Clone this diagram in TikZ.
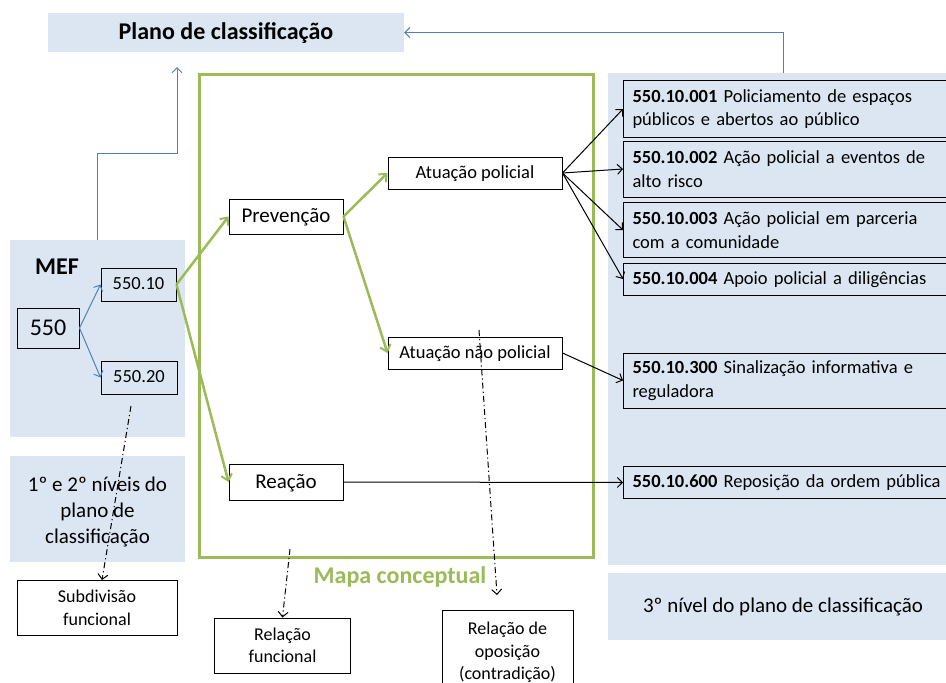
\documentclass[tikz,border=0pt]{standalone}
\usepackage{fontspec}
\setmainfont{Carlito}
\usetikzlibrary{arrows.meta,calc}
\definecolor{lb}{HTML}{DCE6F2}
\definecolor{gr}{HTML}{9BBB59}
\definecolor{bl}{HTML}{4F81BD}
\tikzset{
  panel/.style={fill=lb, draw=none, inner sep=0pt},
  bx/.style={draw=black, line width=1pt, inner sep=2pt, align=center},
  oneA/.style={text height=13pt, text depth=2.5pt},
  oneB/.style={text height=15pt, text depth=3pt},
  oneC/.style={text height=17pt, text depth=3pt},
  rbox/.style={draw=black, line width=1pt, fill=lb, anchor=west, minimum width=340pt,
    text width=322pt, inner xsep=9pt, inner ysep=0pt, align=left,
    font=\fontsize{18.5}{23.5}\selectfont},
  barb/.style={-{Straight Barb[length=5pt,width=10pt]}},
  bluearrow/.style={barb, draw=bl, line width=1pt},
  greenarrow/.style={-{Straight Barb[length=6pt,width=11pt,line width=2pt]}, draw=gr, line width=2.5pt},
  blackarrow/.style={barb, draw=black, line width=1pt},
  dasharrow/.style={barb, draw=black, line width=1pt, dash pattern=on 6pt off 3pt on 1.2pt off 3pt},
  body/.style={font=\fontsize{18.5}{23}\selectfont},
  mid/.style={font=\fontsize{21}{26}\selectfont},
  small/.style={font=\fontsize{18}{22.5}\selectfont},
}
\begin{document}
\begin{tikzpicture}[x=1pt,y=-1pt]
\useasboundingbox (0,0) rectangle (946,683);
\clip (0,0) rectangle (946,683);
\fill[white] (0,0) rectangle (946,683);

% panels
\node[panel, minimum width=356pt, minimum height=39pt, oneC] (title) at (226,32.5)
  {\bfseries\fontsize{24}{28}\selectfont Plano de classificação};
\node[panel, minimum width=175pt, minimum height=197pt] (mefpanel) at (97.5,338.5) {};
\node[panel, minimum width=175pt, minimum height=106pt] (lvl) at (97.5,509) {};
\node[mid, align=center, inner sep=0pt] (lvltxt) at (97.5,512)
  {1º e 2º níveis do\\plano de\\classificação};
\node[panel, minimum width=350pt, minimum height=492pt] (rpanel) at (783,319) {};
\node[panel, minimum width=350pt, minimum height=67pt, mid, oneB] (lvl3) at (783,606.5)
  {3º nível do plano de classificação};

% MEF
\node[font=\bfseries\fontsize{24}{28}\selectfont, oneC] (mef) at (57,267) {MEF};
\node[bx, oneC, minimum width=62pt, minimum height=40pt, font=\fontsize{24}{28}\selectfont] (n550) at (48,328) {550};
\node[bx, oneA, minimum width=75pt, minimum height=33pt, body] (n5510) at (138.5,284.5) {550.10};
\node[bx, oneA, minimum width=76pt, minimum height=33pt, body] (n5520) at (139,377.5) {550.20};

% conceptual map
\node[draw=gr, line width=3pt, minimum width=394pt, minimum height=483pt, inner sep=0pt] (mapa) at (396,315.5) {};
\node[text=gr, oneC, font=\bfseries\fontsize{24}{28}\selectfont] (mapalbl) at (400,576) {Mapa conceptual};
\node[bx, oneB, minimum width=114pt, minimum height=35pt, font=\fontsize{21}{26}\selectfont] (prev) at (286,216.5) {Prevenção};
\node[bx, oneB, minimum width=114pt, minimum height=36pt, font=\fontsize{21}{26}\selectfont] (reac) at (286,482) {Reação};
\node[bx, oneA, minimum width=174pt, minimum height=32pt, body] (ap) at (475,173) {Atuação policial};
\node[bx, oneA, minimum width=174pt, minimum height=32pt, body] (anp) at (475,353) {Atuação não policial};

% right boxes
\node[rbox, minimum height=57pt] (r1) at (623,109) {\textbf{550.10.001} Policiamento de espaços\\públicos e abertos ao público};
\node[rbox, minimum height=56pt] (r2) at (623,169) {\textbf{550.10.002} Ação policial a eventos de\\alto risco};
\node[rbox, minimum height=55pt] (r3) at (623,230) {\textbf{550.10.003} Ação policial em parceria\\com a comunidade};
\node[rbox, oneA, minimum height=32pt] (r4) at (623,279) {\textbf{550.10.004} Apoio policial a diligências};
\node[rbox, minimum height=55pt] (r5) at (623,380.5) {\textbf{550.10.300} Sinalização informativa e\\reguladora};
\node[rbox, oneA, minimum height=32pt] (r6) at (623,482.5) {\textbf{550.10.600} Reposição da ordem pública};

% bottom boxes
\node[bx, minimum width=160pt, minimum height=55pt, small] (sub) at (97,608) {Subdivisão\\funcional};
\node[bx, minimum width=136pt, minimum height=55pt, small] (relf) at (282.5,645.5) {Relação\\funcional};
\node[bx, minimum width=131pt, minimum height=84pt, small, anchor=north] (relo) at (507.5,610) {Relação de\\oposição\\(contradição)};

% blue connectors
\draw[bluearrow] (n550.east) -- (n5510.west);
\draw[bluearrow] (n550.east) -- (n5520.west);
\coordinate (tipA) at (177,67);
\coordinate (bendA) at (177,153);
\draw[bluearrow] (mefpanel.north) |- (bendA) -- (tipA);
\coordinate (startB) at (783,73);
\draw[bluearrow] (startB) |- (title.east);

% green connectors
\draw[greenarrow] (n5510.east) -- (prev.west);
\draw[greenarrow] (n5510.east) -- (reac.west);
\draw[greenarrow] (prev.east) -- (ap.west);
\draw[greenarrow] (prev.east) -- (anp.west);

% black connectors
\draw[blackarrow] (ap.east) -- (r1.west);
\draw[blackarrow] (ap.east) -- (r2.west);
\draw[blackarrow] (ap.east) -- (r3.west);
\draw[blackarrow] (ap.east) -- (r4.west);
\draw[blackarrow] (anp.east) -- (r5.west);
\draw[blackarrow] (reac.east) -- (r6.west);

% dash-dot connectors
\coordinate (dA) at (131,406);
\draw[dasharrow] (dA) -- ([xshift=5pt]sub.north);
\coordinate (dB) at (290,549);
\draw[dasharrow] (dB) -- (relf.north);
\coordinate (dC) at (479,330);
\coordinate (dCe) at (497,595);
\draw[dasharrow] (dC) -- (dCe);
\end{tikzpicture}
\end{document}
